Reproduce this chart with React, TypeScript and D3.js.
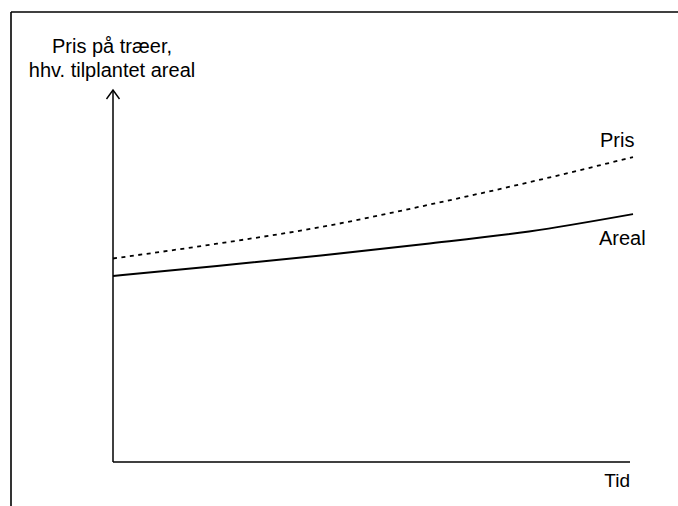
import React from "react";
import * as d3 from "d3";

const times = [0, 2, 4, 6, 8, 10];
const prisValues = [55, 59, 63.5, 69.3, 75.6, 82.4];
const arealValues = [50.3, 53, 55.8, 58.9, 62.3, 67];
const yTitleLines = ["Pris på træer,", "hhv. tilplantet areal"];
const xTitle = "Tid";
const seriesLabels = ["Pris", "Areal"];

const W = 678;
const H = 506;
const FONT = "'Liberation Sans', Arial, Helvetica, sans-serif";

export default function App() {
  const x = d3.scaleLinear().domain([0, 10]).range([113, 633]);
  const y = d3.scaleLinear().domain([0, 100]).range([462, 92]);
  const line = d3
    .line<number>()
    .x((_, i) => x(times[i]))
    .y((d) => y(d))
    .curve(d3.curveMonotoneX);

  const x0 = x(0);
  const y0 = y(0);
  const axisTop = 90;
  const axisRight = 630;

  return (
    <svg
      width={W}
      height={H}
      style={{ position: "absolute", left: 0, top: 0, background: "#fff" }}
    >
      <rect x={0} y={0} width={W} height={H} fill="#fff" />
      {/* frame */}
      <line x1={11} y1={12} x2={W} y2={12} stroke="#000" strokeWidth={1.6} />
      <line x1={11} y1={12} x2={11} y2={H} stroke="#000" strokeWidth={1.6} />

      {/* axes */}
      <line x1={x0} y1={y0} x2={x0} y2={axisTop} stroke="#000" strokeWidth={1.5} />
      <path
        d={`M${x0 - 6.5},${axisTop + 9} L${x0},${axisTop} L${x0 + 6.5},${axisTop + 9}`}
        fill="none"
        stroke="#000"
        strokeWidth={1.4}
      />
      <line x1={x0} y1={y0} x2={axisRight} y2={y0} stroke="#000" strokeWidth={1.5} />

      {/* series */}
      <path
        d={line(prisValues) || ""}
        fill="none"
        stroke="#000"
        strokeWidth={1.8}
        strokeDasharray="4,4.5"
      />
      <path d={line(arealValues) || ""} fill="none" stroke="#000" strokeWidth={2} />

      {/* texts */}
      <g fontFamily={FONT} fontSize={20} fill="#000">
        <text x={112} y={53} textAnchor="middle">
          {yTitleLines[0]}
        </text>
        <text x={112} y={77} textAnchor="middle">
          {yTitleLines[1]}
        </text>
        <text x={630} y={487} textAnchor="end" fontSize={19}>
          {xTitle}
        </text>
        <text x={600} y={147}>{seriesLabels[0]}</text>
        <text x={599} y={245}>{seriesLabels[1]}</text>
      </g>
    </svg>
  );
}
